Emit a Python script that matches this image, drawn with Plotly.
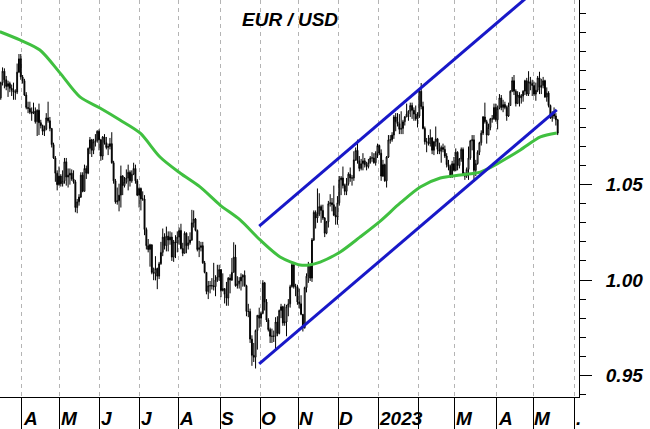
import pandas as pd
import plotly.graph_objects as go

# ---------------- data ----------------
first_open = 1.0955
start_date = "2022-03-16"
end_date = "2023-05-18"

closes = [
    # 2022-03
    1.1035, 1.1095, 1.1050, 1.1015, 1.1030, 1.1005, 1.0995, 1.0985, 1.0985, 1.1090, 1.1160, 1.1065,
    # 2022-04
    1.1045, 1.0970, 1.0905, 1.0900, 1.0880, 1.0875, 1.0885, 1.0830, 1.0890, 1.0825, 1.0810, 1.0780, 1.0790,
    1.0850, 1.0835, 1.0795, 1.0710, 1.0640, 1.0560, 1.0500, 1.0545,
    # 2022-05
    1.0505, 1.0520, 1.0620, 1.0540, 1.0550, 1.0560, 1.0530, 1.0515, 1.0380, 1.0410, 1.0435, 1.0550, 1.0465,
    1.0585, 1.0560, 1.0690, 1.0735, 1.0680, 1.0725, 1.0730, 1.0780, 1.0735,
    # 2022-06
    1.0650, 1.0750, 1.0720, 1.0695, 1.0700, 1.0715, 1.0615, 1.0520, 1.0410, 1.0415, 1.0445, 1.0545, 1.0495,
    1.0515, 1.0535, 1.0565, 1.0520, 1.0555, 1.0585, 1.0520, 1.0445, 1.0480,
    # 2022-07
    1.0425, 1.0425, 1.0265, 1.0180, 1.0160, 1.0185, 1.0040, 1.0035, 1.0060, 1.0020, 1.0085, 1.0145, 1.0225,
    1.0180, 1.0230, 1.0210, 1.0225, 1.0120, 1.0200, 1.0195, 1.0225,
    # 2022-08
    1.0260, 1.0165, 1.0140, 1.0245, 1.0180, 1.0195, 1.0210, 1.0300, 1.0320, 1.0260, 1.0160, 1.0170, 1.0180,
    1.0090, 1.0040, 0.9940, 0.9970, 0.9970, 0.9970, 0.9965, 1.0000, 1.0015, 1.0055,
    # 2022-09
    0.9945, 0.9955, 0.9925, 0.9905, 1.0010, 1.0000, 1.0040, 1.0120, 0.9970, 0.9980, 0.9995, 1.0015, 1.0025,
    0.9970, 0.9835, 0.9835, 0.9690, 0.9605, 0.9595, 0.9735, 0.9815, 0.9800,
    # 2022-10
    0.9825, 0.9985, 0.9885, 0.9790, 0.9740, 0.9705, 0.9705, 0.9705, 0.9780, 0.9720, 0.9840, 0.9860, 0.9775,
    0.9780, 0.9860, 0.9875, 0.9965, 1.0080, 0.9965, 0.9965, 0.9885,
    # 2022-11
    0.9875, 0.9820, 0.9750, 0.9960, 1.0020, 1.0075, 1.0010, 1.0210, 1.0355, 1.0325, 1.0345, 1.0385, 1.0365,
    1.0325, 1.0245, 1.0305, 1.0400, 1.0405, 1.0395, 1.0340, 1.0330, 1.0405,
    # 2022-12
    1.0525, 1.0535, 1.0495, 1.0465, 1.0505, 1.0555, 1.0535, 1.0535, 1.0630, 1.0680, 1.0625, 1.0585, 1.0610,
    1.0625, 1.0605, 1.0595, 1.0615, 1.0640, 1.0640, 1.0615, 1.0665, 1.0705,
    # 2023-01
    1.0665, 1.0545, 1.0605, 1.0520, 1.0645, 1.0735, 1.0735, 1.0760, 1.0855, 1.0830, 1.0820, 1.0790, 1.0795,
    1.0830, 1.0855, 1.0870, 1.0885, 1.0915, 1.0890, 1.0870, 1.0845, 1.0860,
    # 2023-02
    1.0990, 1.0910, 1.0795, 1.0725, 1.0725, 1.0715, 1.0745, 1.0680, 1.0725, 1.0740, 1.0685, 1.0675, 1.0695,
    1.0685, 1.0650, 1.0605, 1.0595, 1.0545, 1.0610, 1.0575,
    # 2023-03
    1.0670, 1.0600, 1.0635, 1.0685, 1.0550, 1.0545, 1.0580, 1.0640, 1.0730, 1.0735, 1.0575, 1.0610, 1.0670,
    1.0720, 1.0770, 1.0855, 1.0830, 1.0760, 1.0800, 1.0845, 1.0845, 1.0905, 1.0840,
    # 2023-04
    1.0900, 1.0955, 1.0905, 1.0920, 1.0905, 1.0860, 1.0915, 1.0990, 1.1045, 1.0990, 1.0925, 1.0970, 1.0955,
    1.0965, 1.0990, 1.1045, 1.0975, 1.1040, 1.1030, 1.1020,
    # 2023-05
    1.0975, 1.0995, 1.1060, 1.1010, 1.1020, 1.1045, 1.0960, 1.0980, 1.0915, 1.0850, 1.0870, 1.0860, 1.0840,
    1.0770,
]

highs = [
    # 2022-03
    1.1040, 1.1115, 1.1110, 1.1070, 1.1045, 1.1040, 1.1025, 1.1035, 1.1000, 1.1135, 1.1185, 1.1185,
    # 2022-04
    1.1075, 1.1055, 1.0985, 1.0935, 1.0935, 1.0905, 1.0930, 1.0905, 1.0895, 1.0925, 1.0840, 1.0815, 1.0810,
    1.0875, 1.0935, 1.0855, 1.0795, 1.0720, 1.0650, 1.0575, 1.0595,
    # 2022-05
    1.0555, 1.0575, 1.0640, 1.0640, 1.0585, 1.0585, 1.0580, 1.0575, 1.0525, 1.0425, 1.0450, 1.0565, 1.0565,
    1.0605, 1.0600, 1.0695, 1.0750, 1.0740, 1.0740, 1.0765, 1.0785, 1.0790,
    # 2022-06
    1.0740, 1.0755, 1.0765, 1.0750, 1.0715, 1.0745, 1.0775, 1.0625, 1.0530, 1.0485, 1.0505, 1.0600, 1.0550,
    1.0540, 1.0580, 1.0605, 1.0575, 1.0575, 1.0615, 1.0605, 1.0530, 1.0485,
    # 2022-07
    1.0485, 1.0465, 1.0445, 1.0275, 1.0215, 1.0190, 1.0155, 1.0065, 1.0125, 1.0065, 1.0095, 1.0200, 1.0270,
    1.0245, 1.0280, 1.0255, 1.0255, 1.0250, 1.0210, 1.0235, 1.0255,
    # 2022-08
    1.0275, 1.0295, 1.0195, 1.0255, 1.0250, 1.0230, 1.0250, 1.0368, 1.0365, 1.0325, 1.0265, 1.0205, 1.0200,
    1.0200, 1.0100, 1.0035, 0.9995, 0.9995, 1.0010, 1.0090, 1.0025, 1.0080, 1.0080,
    # 2022-09
    1.0055, 1.0035, 0.9945, 0.9990, 1.0015, 1.0030, 1.0115, 1.0198, 1.0185, 1.0020, 1.0015, 1.0035, 1.0030,
    1.0050, 0.9975, 0.9875, 0.9850, 0.9710, 0.9670, 0.9740, 0.9815, 0.9855,
    # 2022-10
    0.9835, 0.9999, 0.9990, 0.9900, 0.9800, 0.9750, 0.9745, 0.9735, 0.9805, 0.9810, 0.9845, 0.9875, 0.9865,
    0.9875, 0.9870, 0.9900, 0.9975, 1.0094, 1.0090, 0.9980, 0.9975,
    # 2022-11
    0.9955, 0.9920, 0.9820, 0.9965, 1.0035, 1.0095, 1.0085, 1.0220, 1.0365, 1.0365, 1.0480, 1.0455, 1.0395,
    1.0395, 1.0330, 1.0310, 1.0415, 1.0450, 1.0430, 1.0495, 1.0385, 1.0440,
    # 2022-12
    1.0545, 1.0545, 1.0595, 1.0505, 1.0535, 1.0565, 1.0590, 1.0550, 1.0675, 1.0695, 1.0736, 1.0650, 1.0635,
    1.0665, 1.0640, 1.0620, 1.0635, 1.0650, 1.0670, 1.0665, 1.0675, 1.0715,
    # 2023-01
    1.0710, 1.0685, 1.0630, 1.0610, 1.0650, 1.0760, 1.0760, 1.0775, 1.0865, 1.0875, 1.0875, 1.0870, 1.0885,
    1.0840, 1.0860, 1.0925, 1.0890, 1.0930, 1.0930, 1.0905, 1.0915, 1.0880,
    # 2023-02
    1.1000, 1.1033, 1.0935, 1.0805, 1.0745, 1.0760, 1.0790, 1.0750, 1.0730, 1.0805, 1.0745, 1.0720, 1.0705,
    1.0715, 1.0705, 1.0665, 1.0630, 1.0605, 1.0625, 1.0645,
    # 2023-03
    1.0690, 1.0675, 1.0640, 1.0695, 1.0695, 1.0565, 1.0590, 1.0700, 1.0735, 1.0760, 1.0760, 1.0630, 1.0680,
    1.0725, 1.0785, 1.0860, 1.0930, 1.0840, 1.0820, 1.0850, 1.0865, 1.0925, 1.0925,
    # 2023-04
    1.0915, 1.0975, 1.0970, 1.0945, 1.0935, 1.0915, 1.0930, 1.0995, 1.1065, 1.1075, 1.1000, 1.0990, 1.0985,
    1.0975, 1.0995, 1.1050, 1.1060, 1.1095, 1.1065, 1.1050,
    # 2023-05
    1.1040, 1.1035, 1.1070, 1.1092, 1.1055, 1.1065, 1.1050, 1.1010, 1.0990, 1.0920, 1.0885, 1.0905, 1.0875,
    1.0845,
]

lows = [
    # 2022-03
    1.0945, 1.1020, 1.1005, 1.0995, 1.0960, 1.0985, 1.0965, 1.0945, 1.0945, 1.0975, 1.1085, 1.1050,
    # 2022-04
    1.1030, 1.0965, 1.0895, 1.0875, 1.0870, 1.0835, 1.0870, 1.0820, 1.0755, 1.0760, 1.0795, 1.0760, 1.0755,
    1.0785, 1.0825, 1.0780, 1.0695, 1.0635, 1.0515, 1.0470, 1.0495,
    # 2022-05
    1.0490, 1.0490, 1.0505, 1.0495, 1.0485, 1.0500, 1.0520, 1.0505, 1.0355, 1.0350, 1.0390, 1.0430, 1.0460,
    1.0465, 1.0530, 1.0555, 1.0660, 1.0645, 1.0660, 1.0700, 1.0720, 1.0680,
    # 2022-06
    1.0625, 1.0630, 1.0710, 1.0685, 1.0655, 1.0685, 1.0610, 1.0505, 1.0400, 1.0395, 1.0360, 1.0380, 1.0445,
    1.0485, 1.0505, 1.0470, 1.0490, 1.0510, 1.0550, 1.0505, 1.0440, 1.0380,
    # 2022-07
    1.0365, 1.0415, 1.0235, 1.0160, 1.0145, 1.0070, 1.0030, 0.9999, 0.9998, 0.9952, 1.0005, 1.0080, 1.0125,
    1.0160, 1.0150, 1.0150, 1.0185, 1.0100, 1.0095, 1.0115, 1.0145,
    # 2022-08
    1.0185, 1.0160, 1.0125, 1.0140, 1.0140, 1.0160, 1.0185, 1.0205, 1.0275, 1.0255, 1.0150, 1.0120, 1.0150,
    1.0085, 1.0035, 0.9925, 0.9900, 0.9930, 0.9950, 0.9945, 0.9915, 0.9990, 0.9995,
    # 2022-09
    0.9910, 0.9940, 0.9877, 0.9865, 0.9865, 0.9930, 0.9995, 1.0050, 0.9965, 0.9955, 0.9955, 0.9945, 0.9965,
    0.9965, 0.9810, 0.9805, 0.9670, 0.9550, 0.9570, 0.9536, 0.9635, 0.9750,
    # 2022-10
    0.9755, 0.9820, 0.9840, 0.9780, 0.9730, 0.9670, 0.9670, 0.9675, 0.9632, 0.9705, 0.9715, 0.9800, 0.9760,
    0.9760, 0.9705, 0.9810, 0.9855, 0.9960, 0.9955, 0.9915, 0.9870,
    # 2022-11
    0.9850, 0.9815, 0.9730, 0.9745, 0.9935, 0.9985, 0.9995, 0.9990, 1.0205, 1.0270, 1.0300, 1.0335, 1.0300,
    1.0315, 1.0225, 1.0240, 1.0275, 1.0385, 1.0360, 1.0335, 1.0290, 1.0290,
    # 2022-12
    1.0390, 1.0445, 1.0480, 1.0445, 1.0445, 1.0495, 1.0515, 1.0495, 1.0520, 1.0625, 1.0610, 1.0570, 1.0575,
    1.0575, 1.0590, 1.0575, 1.0585, 1.0610, 1.0620, 1.0610, 1.0600, 1.0640,
    # 2023-01
    1.0655, 1.0520, 1.0540, 1.0515, 1.0485, 1.0640, 1.0715, 1.0725, 1.0740, 1.0780, 1.0805, 1.0765, 1.0765,
    1.0765, 1.0810, 1.0855, 1.0835, 1.0855, 1.0845, 1.0835, 1.0835, 1.0800,
    # 2023-02
    1.0850, 1.0895, 1.0790, 1.0710, 1.0670, 1.0705, 1.0700, 1.0660, 1.0655, 1.0700, 1.0660, 1.0660, 1.0615,
    1.0670, 1.0640, 1.0590, 1.0575, 1.0535, 1.0535, 1.0570,
    # 2023-03
    1.0570, 1.0575, 1.0585, 1.0620, 1.0545, 1.0525, 1.0535, 1.0525, 1.0630, 1.0680, 1.0516, 1.0545, 1.0605,
    1.0655, 1.0705, 1.0760, 1.0820, 1.0715, 1.0760, 1.0785, 1.0825, 1.0840, 1.0830,
    # 2023-04
    1.0790, 1.0895, 1.0890, 1.0880, 1.0895, 1.0835, 1.0855, 1.0915, 1.0985, 1.0970, 1.0910, 1.0925, 1.0910,
    1.0925, 1.0935, 1.0970, 1.0965, 1.0965, 1.0995, 1.0965,
    # 2023-05
    1.0965, 1.0940, 1.0985, 1.0975, 1.0975, 1.1005, 1.0955, 1.0935, 1.0905, 1.0845, 1.0830, 1.0845, 1.0810,
    1.0760,
]

# Moving average (green line), read at points along the curve
ma_dates = ["2022-03-16", "2022-03-31", "2022-04-15", "2022-05-02", "2022-05-17", "2022-06-01",
            "2022-06-16", "2022-07-01", "2022-07-18", "2022-08-02", "2022-08-17", "2022-09-01",
            "2022-09-16", "2022-10-03", "2022-10-18", "2022-11-02", "2022-11-09", "2022-11-17",
            "2022-12-02", "2022-12-19", "2023-01-03", "2023-01-18", "2023-02-02", "2023-02-17",
            "2023-03-06", "2023-03-21", "2023-04-05", "2023-04-20", "2023-05-05", "2023-05-18"]
ma_values = [1.1302, 1.1259, 1.1206, 1.1086, 1.0960, 1.0902,
             1.0839, 1.0771, 1.0645, 1.0561, 1.0488, 1.0393,
             1.0315, 1.0210, 1.0121, 1.0079, 1.0079, 1.0094,
             1.0147, 1.0226, 1.0309, 1.0404, 1.0488, 1.0535,
             1.0551, 1.0566, 1.0619, 1.0682, 1.0750, 1.0771]

# Trend channel (blue lines)
upper_dates = ["2022-09-30 12:00", "2023-04-27 07:00"]
upper_values = [1.0283, 1.1496]
lower_dates = ["2022-09-30 12:00", "2023-05-18 00:00"]
lower_values = [0.9560, 1.0892]

# Month boundaries and their labels
month_starts = ["2022-04-01", "2022-05-02", "2022-06-01", "2022-07-01", "2022-08-01", "2022-09-01",
                "2022-10-03", "2022-11-01", "2022-12-01", "2023-01-02", "2023-02-01", "2023-03-01",
                "2023-04-03", "2023-05-01", "2023-06-01"]
month_labels = ["A", "M", "J", "J", "A", "S", "O", "N", "D", "2023", "", "M", "A", "M", "."]

y_tickvals = [0.95, 1.00, 1.05]
y_ticktext = ["0.95", "1.00", "1.05"]
title_text = "EUR / USD"

# ---------------- build ----------------
dates = pd.bdate_range(start_date, end_date)
assert len(dates) == len(closes) == len(highs) == len(lows), (len(dates), len(closes), len(highs), len(lows))
opens = [first_open] + closes[:-1]
hi = [max(h, o, c) for h, o, c in zip(highs, opens, closes)]
lo = [min(l, o, c) for l, o, c in zip(lows, opens, closes)]
x_candles = dates + pd.Timedelta(hours=12)

FONT = "Liberation Sans, Arial, sans-serif"
bold_it = dict(family=FONT, size=19, color="black", weight="bold", style="italic")

fig = go.Figure()
fig.add_trace(go.Candlestick(
    x=x_candles, open=opens, high=hi, low=lo, close=closes,
    increasing=dict(line=dict(color="black", width=1), fillcolor="white"),
    decreasing=dict(line=dict(color="black", width=1), fillcolor="black"),
    whiskerwidth=0, showlegend=False, hoverinfo="skip"))
fig.add_trace(go.Scatter(x=ma_dates, y=ma_values, mode="lines",
                         line=dict(color="#40c040", width=3, shape="spline", smoothing=0.8),
                         showlegend=False, hoverinfo="skip"))
fig.add_trace(go.Scatter(x=upper_dates, y=upper_values, mode="lines",
                         line=dict(color="#1818c8", width=3), showlegend=False, hoverinfo="skip"))
fig.add_trace(go.Scatter(x=lower_dates, y=lower_values, mode="lines",
                         line=dict(color="#1818c8", width=3), showlegend=False, hoverinfo="skip"))

annotations = [dict(x=0.5, y=0.952, xref="paper", yref="paper", text=title_text, showarrow=False,
                    xanchor="center", yanchor="middle", font=bold_it)]
for d, lab in zip(month_starts, month_labels):
    if lab:
        annotations.append(dict(x=d, y=-0.053, xref="x", yref="paper", text=lab, showarrow=False,
                                xanchor="left", yanchor="middle", xshift=-1, font=bold_it))

fig.update_layout(
    width=650, height=429,
    margin=dict(l=0, r=71, t=0, b=32),
    paper_bgcolor="white", plot_bgcolor="white",
    showlegend=False,
    annotations=annotations,
    xaxis=dict(
        type="date",
        range=["2022-03-16 02:00", "2023-06-05 05:00"],
        rangebreaks=[dict(bounds=["sat", "mon"])],
        rangeslider=dict(visible=False),
        tickvals=month_starts, showticklabels=False,
        ticks="outside", ticklen=32, tickwidth=1, tickcolor="black",
        showgrid=True, gridcolor="#b4b4b4", gridwidth=1, griddash="4px,4px",
        showline=True, linecolor="black", linewidth=1, zeroline=False,
    ),
    yaxis=dict(
        side="right",
        range=[0.93865, 1.14683],
        tickvals=y_tickvals, ticktext=y_ticktext,
        ticks="outside", ticklen=12, tickwidth=1, tickcolor="black",
        tickfont=bold_it, ticklabelstandoff=10,
        minor=dict(dtick=0.01, tick0=0.95, ticks="outside", ticklen=6, tickcolor="black", showgrid=False),
        showgrid=False, showline=True, linecolor="black", linewidth=1, zeroline=False,
    ),
)

fig.write_html("out.html",
               config={"displayModeBar": False},
               post_script="document.body.style.margin='0';document.body.style.overflow='hidden';")
